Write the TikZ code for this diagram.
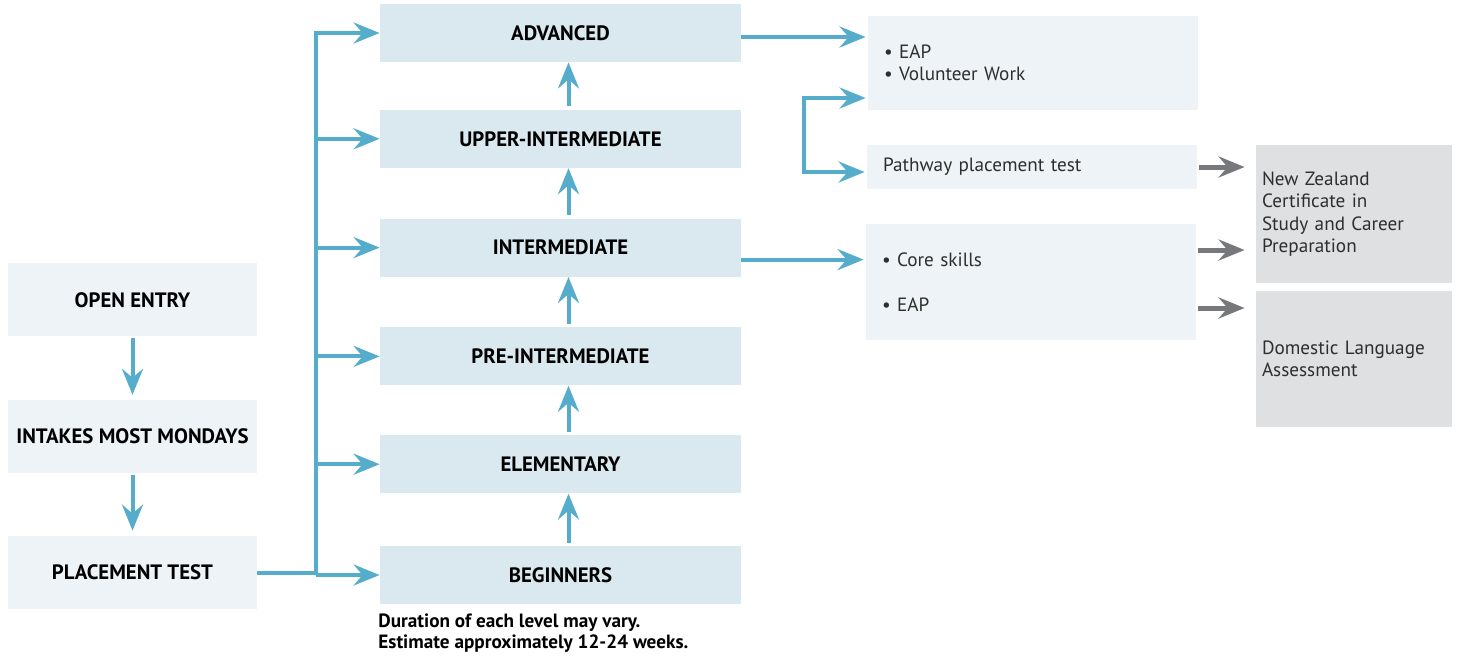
\documentclass[tikz,border=0pt]{standalone}
\usepackage{fontspec}
\setmainfont{PT Sans}
\usetikzlibrary{positioning,arrows.meta}
\definecolor{pathblue}{HTML}{55ADCB}
\definecolor{exitgrey}{HTML}{77787B}
\definecolor{levelfill}{HTML}{DAE8EF}
\definecolor{entryfill}{HTML}{EDF3F7}
\definecolor{optionfill}{HTML}{EEF3F7}
\definecolor{awardfill}{HTML}{DFE0E1}
\definecolor{bodytext}{HTML}{2E2E2E}
\begin{document}
\begin{tikzpicture}[
    x=0.5pt, y=-0.5pt,
    node distance=25pt,
    >={Stealth[length=13pt,width=10.5pt,inset=4.5pt]},
    level/.style={rectangle, fill=levelfill, minimum width=180.5pt, minimum height=29pt, font=\fontsize{10.4}{12}\selectfont\bfseries},
    entry/.style={rectangle, fill=entryfill, minimum width=124.5pt, minimum height=36.5pt, font=\fontsize{10.4}{12}\selectfont\bfseries},
    option/.style={rectangle, fill=optionfill, text=bodytext, text width=149pt, inner xsep=8pt, align=left, font=\fontsize{9.6}{11}\selectfont},
    award/.style={rectangle, fill=awardfill, text=bodytext, text width=92pt, inner xsep=3pt, align=left, font=\fontsize{9.6}{11.2}\selectfont},
    flow/.style={->, line width=2pt, draw=pathblue},
    exit/.style={->, line width=2.5pt, draw=exitgrey, shorten >=5.5pt}
]
    \useasboundingbox (0,0) rectangle (1458,655);

    % entry column
    \node [entry] (placement) at (132.5,572.5) {PLACEMENT TEST};
    \node [entry, above=31pt of placement] (intakes) {INTAKES MOST MONDAYS};
    \node [entry, above=31.5pt of intakes] (open) {OPEN ENTRY};

    % levels
    \node [level] (beginners) at (560.5,575) {BEGINNERS};
    \node [level, above=26pt of beginners] (elementary) {ELEMENTARY};
    \node [level, above=24.5pt of elementary] (preint) {PRE-INTERMEDIATE};
    \node [level, above=of preint] (intermediate) {INTERMEDIATE};
    \node [level, above=of intermediate] (upper) {UPPER-INTERMEDIATE};
    \node [level, above=23.5pt of upper] (advanced) {ADVANCED};

    \node [anchor=west, inner sep=0pt, align=left, font=\fontsize{9.6}{10.5}\selectfont\bfseries] (note) at (378,633.5)
        {Duration of each level may vary.\\Estimate approximately 12-24 weeks.};

    % pathways
    \node [option, minimum height=47pt] (eap) at (1033,63) {• EAP\\• Volunteer Work};
    \node [option, minimum height=22pt] (pathway) at (1032,167) {Pathway placement test};
    \node [option, minimum height=58pt] (core) at (1031,282) {• Core skills\\[11.5pt]• EAP};
    \node [award, minimum height=69pt] (nzcert) at (1354,214) {New Zealand\\Certificate in\\Study and Career\\Preparation};
    \node [award, minimum height=68pt] (domestic) at (1354,359) {Domestic Language\\Assessment};

    \coordinate (trunk) at (316,0);
    \coordinate (forktop) at (804,98);
    \coordinate (forkbot) at (804,172);

    \draw [flow, shorten <=0.5pt, shorten >=2.5pt] (open) -- (intakes);
    \draw [flow, shorten <=0.5pt, shorten >=2.5pt] (intakes) -- (placement);

    \draw [flow] (placement.east) -- (placement.east -| trunk) |- (advanced.west);
    \foreach \lvl in {upper, intermediate, preint, elementary, beginners}
        \draw [flow] (\lvl.west -| trunk) -- (\lvl.west);
    \foreach \from/\to in {beginners/elementary, elementary/preint, preint/intermediate, intermediate/upper, upper/advanced}
        \draw [flow, shorten <=1.5pt] ([xshift=4pt]\from.north) -- ([xshift=4pt]\to.south);

    \draw [flow, shorten >=1pt] ([yshift=-2pt]advanced.east) -- ([yshift=-2pt]advanced.east -| eap.west);
    \draw [flow, shorten >=1pt] ([yshift=-6pt]intermediate.east) -- ([yshift=-6pt]intermediate.east -| core.west);
    \draw [flow, <->, shorten >=1pt, shorten <=1pt] (forktop -| eap.west) -- (forktop) -- (forkbot) -- (forkbot -| pathway.west);

    \draw [exit, shorten <=1pt] (pathway.east) -- (pathway.east -| nzcert.west);
    \draw [exit, shorten <=1pt] ([yshift=16pt]core.east) -- ([yshift=16pt]core.east -| nzcert.west);
    \draw [exit, shorten <=1pt] ([yshift=-13pt]core.east) -- ([yshift=-13pt]core.east -| domestic.west);
\end{tikzpicture}
\end{document}
